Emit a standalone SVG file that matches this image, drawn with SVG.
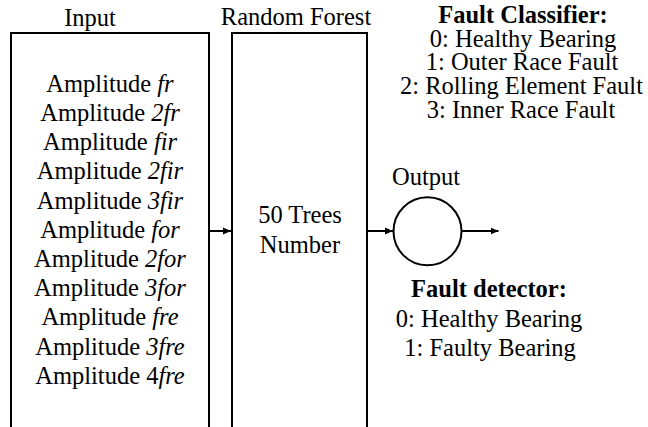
<svg xmlns="http://www.w3.org/2000/svg" width="648" height="427" viewBox="0 0 648 427" font-family="'Liberation Serif', 'Times New Roman', Times, serif">
  <defs>
    <marker id="arrow" viewBox="0 0 8 8" refX="8" refY="4" markerWidth="8" markerHeight="8" markerUnits="userSpaceOnUse" orient="auto">
      <path d="M0,0.6 L8,4 L0,7.4 Z" fill="#000"/>
    </marker>
    <style>
      text { font-family: 'Liberation Serif', 'Times New Roman', Times, serif; font-size: 24.5px; fill: #000; text-anchor: middle; }
      .b { font-weight: bold; }
      .i { font-style: italic; }
      .box { fill: none; stroke: #000; stroke-width: 2; }
      .wire { fill: none; stroke: #000; stroke-width: 2; }
    </style>
  </defs>
  <rect width="648" height="427" fill="#fff"/>

  <!-- input feature block (open at the bottom) -->
  <g id="input">
    <path class="box" d="M11,428 V33 H209 V428"/>
    <text x="90" y="26">Input</text>
    <text x="110" y="91.7">Amplitude <tspan class="i">fr</tspan></text>
    <text x="110" y="120.9">Amplitude <tspan class="i">2fr</tspan></text>
    <text x="110" y="150.1">Amplitude <tspan class="i">fir</tspan></text>
    <text x="110" y="179.3">Amplitude <tspan class="i">2fir</tspan></text>
    <text x="110" y="208.5">Amplitude <tspan class="i">3fir</tspan></text>
    <text x="110" y="237.7">Amplitude <tspan class="i">for</tspan></text>
    <text x="110" y="266.9">Amplitude <tspan class="i">2for</tspan></text>
    <text x="110" y="296.1">Amplitude <tspan class="i">3for</tspan></text>
    <text x="110" y="325.3">Amplitude <tspan class="i">fre</tspan></text>
    <text x="110" y="354.5">Amplitude <tspan class="i">3fre</tspan></text>
    <text x="110" y="383.7">Amplitude 4<tspan class="i">fre</tspan></text>
  </g>

  <!-- random forest block (open at the bottom) -->
  <g id="random-forest">
    <path class="box" d="M232,428 V33 H367 V428"/>
    <text x="296" y="25">Random Forest</text>
    <text x="300" y="223.3">50 Trees</text>
    <text x="300" y="252.7">Number</text>
  </g>

  <!-- output node -->
  <g id="output">
    <circle class="box" cx="427.5" cy="231.3" r="34"/>
    <text x="426" y="185">Output</text>
  </g>

  <!-- class legends -->
  <g id="fault-classifier">
    <text class="b" x="523" y="23.3">Fault Classifier:</text>
    <text x="523" y="46.7">0: Healthy Bearing</text>
    <text x="522" y="70.3">1: Outer Race Fault</text>
    <text x="521.5" y="94">2: Rolling Element Fault</text>
    <text x="521" y="117.7">3: Inner Race Fault</text>
  </g>
  <g id="fault-detector">
    <text class="b" x="489" y="297.3">Fault detector:</text>
    <text x="489" y="326.7">0: Healthy Bearing</text>
    <text x="490" y="356.3">1: Faulty Bearing</text>
  </g>

  <!-- connectors -->
  <g id="connectors">
    <line class="wire" x1="209" y1="231" x2="231" y2="231" marker-end="url(#arrow)"/>
    <line class="wire" x1="367" y1="231" x2="393" y2="231" marker-end="url(#arrow)"/>
    <line class="wire" x1="461.5" y1="231" x2="498.5" y2="231" marker-end="url(#arrow)"/>
  </g>
</svg>
